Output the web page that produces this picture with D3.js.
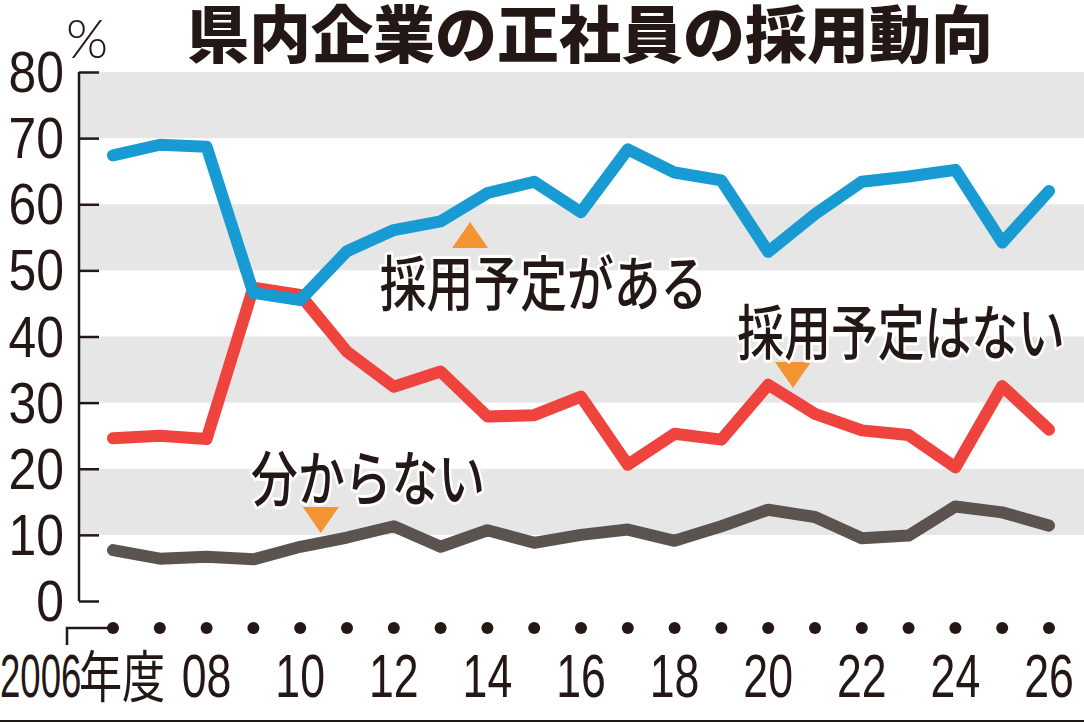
<!DOCTYPE html>
<html>
<head>
<meta charset="utf-8">
<script src="https://cdn.jsdelivr.net/npm/d3@7"></script>
<style>
  html, body { margin: 0; padding: 0; background: #fff; }
  svg { display: block; }
</style>
</head>
<body>
<div id="vis"></div>
<script>
// values, in %
var years = [2006, 2007, 2008, 2009, 2010, 2011, 2012, 2013, 2014, 2015, 2016,
             2017, 2018, 2019, 2020, 2021, 2022, 2023, 2024, 2025, 2026];
var planned    = [67.4, 69.0, 68.7, 46.6, 45.5, 52.9, 56.1, 57.4, 61.7, 63.4, 58.8,
                  68.3, 64.8, 63.6, 52.8, 58.5, 63.4, 64.2, 65.2, 54.2, 62.0];
var notPlanned = [24.6, 25.0, 24.5, 47.4, 46.3, 37.7, 32.4, 34.7, 27.9, 28.1, 30.9,
                  20.6, 25.3, 24.4, 32.7, 28.3, 25.8, 25.1, 20.2, 32.5, 25.9];
var unknown    = [7.7, 6.4, 6.7, 6.3, 8.2, 9.6, 11.3, 8.2, 10.7, 8.8, 10.0,
                  10.8, 9.1, 11.3, 13.8, 12.7, 9.5, 9.9, 14.3, 13.4, 11.4];

var yTicks = [0, 10, 20, 30, 40, 50, 60, 70, 80];
var bands = [[10, 20], [30, 40], [50, 60], [70, 80]];
var xTickYears  = [2008, 2010, 2012, 2014, 2016, 2018, 2020, 2022, 2024, 2026];
var xTickLabels = ['08', '10', '12', '14', '16', '18', '20', '22', '24', '26'];
var title = '県内企業の正社員の採用動向';

// labels sit on the chart at (year, value)
var labels = [
  { text: '採用予定がある', year: 2015.2, value: 44.6 },
  { text: '採用予定はない', year: 2022.84, value: 37.2 },
  { text: '分からない', year: 2011.45, value: 15.1 }
];
// little orange pointers, (year, value) is the tip
var pointers = [
  { year: 2013.63, value: 57.3, dir: 'up' },
  { year: 2020.53, value: 32.2, dir: 'down' },
  { year: 2010.44, value: 10.3, dir: 'down' }
];

var width = 1084;
var height = 723;
var ink = '#231815';

var x = d3.scaleLinear().domain([2006, 2026]).range([113, 1049]);
var y = d3.scaleLinear().domain([0, 80]).range([601, 72]);

var svg = d3.select('#vis').append('svg')
  .attr('width', width)
  .attr('height', height);

// grey stripes
svg.append('g').selectAll('rect')
  .data(bands)
  .join('rect')
  .attr('x', 80)
  .attr('width', width - 80)
  .attr('y', function (d) { return y(d[1]); })
  .attr('height', function (d) { return y(d[0]) - y(d[1]); })
  .attr('fill', '#e6e6e6');

// y axis
var yAxis = svg.append('g')
  .attr('transform', 'translate(79,0)')
  .call(d3.axisRight(y).tickValues(yTicks).tickSize(20).tickFormat(''));
yAxis.select('.domain').attr('d', 'M0,' + y(80) + 'V' + y(0))
  .attr('stroke', ink).attr('stroke-width', 2.5);
yAxis.selectAll('.tick line').attr('stroke', ink).attr('stroke-width', 2.5);

svg.append('g').selectAll('g')
  .data(yTicks)
  .join('g')
  .attr('transform', function (d) { return 'translate(64,' + (y(d) + 20) + ') scale(0.86,1)'; })
  .append('text')
  .attr('text-anchor', 'end')
  .attr('font-family', '"Liberation Sans", Arial, sans-serif')
  .attr('font-size', 58)
  .attr('fill', ink)
  .text(function (d) { return d; });

svg.append('text')
  .attr('x', 66)
  .attr('y', 58)
  .attr('font-family', 'Lato, "Liberation Sans", sans-serif')
  .attr('font-weight', 300)
  .attr('font-size', 54)
  .attr('fill', ink)
  .text('%');

// x axis: dotted row, one dot per year
var dotY = 628;
svg.append('path')
  .attr('d', 'M67,645V' + dotY + 'H' + x(2006))
  .attr('fill', 'none')
  .attr('stroke', ink)
  .attr('stroke-width', 2.5);

svg.append('g').selectAll('circle')
  .data(years)
  .join('circle')
  .attr('cx', function (d) { return x(d); })
  .attr('cy', dotY)
  .attr('r', 6)
  .attr('fill', ink);

svg.append('g').selectAll('g')
  .data(xTickYears)
  .join('g')
  .attr('transform', function (d) { return 'translate(' + x(d) + ',697) scale(0.72,1)'; })
  .append('text')
  .attr('text-anchor', 'middle')
  .attr('font-family', '"Liberation Sans", Arial, sans-serif')
  .attr('font-size', 62)
  .attr('fill', ink)
  .text(function (d, i) { return xTickLabels[i]; });

svg.append('g')
  .attr('transform', 'translate(0,697) scale(0.59,1)')
  .append('text')
  .attr('font-family', '"Liberation Sans", Arial, sans-serif')
  .attr('font-size', 62)
  .attr('fill', ink)
  .text(years[0]);
svg.append('g')
  .attr('transform', 'translate(79,697) scale(0.77,1)')
  .append('text')
  .attr('font-family', '"Noto Sans CJK JP", sans-serif')
  .attr('font-size', 56)
  .attr('fill', ink)
  .text('年度');

// the three lines
var line = d3.line()
  .x(function (d, i) { return x(years[i]); })
  .y(function (d) { return y(d); });

var series = [
  { values: unknown, color: '#5a5350' },
  { values: notPlanned, color: '#ef433d' },
  { values: planned, color: '#179bd2' }
];

svg.append('g').selectAll('path')
  .data(series)
  .join('path')
  .attr('d', function (d) { return line(d.values); })
  .attr('fill', 'none')
  .attr('stroke', function (d) { return d.color; })
  .attr('stroke-width', 12)
  .attr('stroke-linejoin', 'round')
  .attr('stroke-linecap', 'round');

// pointers
svg.append('g').selectAll('path')
  .data(pointers)
  .join('path')
  .attr('d', function (d) {
    var px = x(d.year), py = y(d.value), h = d.dir === 'up' ? 26 : -26;
    return 'M' + px + ',' + py + 'L' + (px - 18) + ',' + (py + h) + 'L' + (px + 18) + ',' + (py + h) + 'Z';
  })
  .attr('fill', '#f39331');

// series labels with white halo
svg.append('g').selectAll('g')
  .data(labels)
  .join('g')
  .attr('transform', function (d) { return 'translate(' + x(d.year) + ',' + y(d.value) + ') scale(0.78,1)'; })
  .append('text')
  .attr('text-anchor', 'middle')
  .attr('font-family', '"Noto Sans CJK JP", sans-serif')
  .attr('font-weight', 500)
  .attr('font-size', 60)
  .attr('fill', ink)
  .attr('stroke', '#fff')
  .attr('stroke-width', 6)
  .attr('stroke-linejoin', 'round')
  .attr('paint-order', 'stroke')
  .text(function (d) { return d.text; });

// title
svg.append('text')
  .attr('x', 590)
  .attr('y', 58)
  .attr('text-anchor', 'middle')
  .attr('font-family', '"Noto Sans CJK JP", sans-serif')
  .attr('font-weight', 900)
  .attr('font-size', 62)
  .attr('fill', ink)
  .text(title);

// rule along the bottom edge
svg.append('line')
  .attr('x1', 0).attr('x2', width)
  .attr('y1', 721).attr('y2', 721)
  .attr('stroke', ink)
  .attr('stroke-width', 2);
</script>
</body>
</html>
